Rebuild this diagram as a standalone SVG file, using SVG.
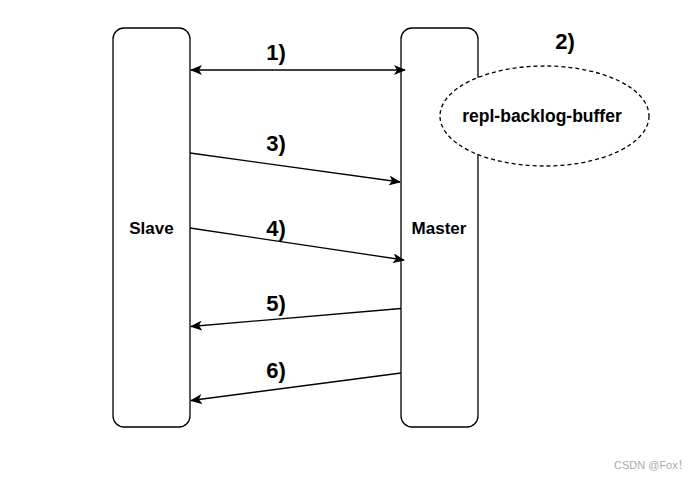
<svg xmlns="http://www.w3.org/2000/svg" width="698" height="479" viewBox="0 0 698 479">
<defs>
<marker id="arr" viewBox="0 0 12 10" refX="11" refY="5" markerWidth="12" markerHeight="10" markerUnits="userSpaceOnUse" orient="auto-start-reverse">
<path d="M0,0 L12,5 L0,10 L3,5 Z" fill="#000"/>
</marker>
<style>
.box{fill:#fff;stroke:#000;stroke-width:1.3}
.lbl{font-family:"Liberation Sans",Arial,sans-serif;font-weight:bold;fill:#000;text-anchor:middle}
.num{font-size:22px}
.name{font-size:17px}
.ln{stroke:#000;stroke-width:1.3;fill:none;marker-end:url(#arr)}
</style>
</defs>
<rect width="698" height="479" fill="#fff"/>
<g id="slave">
<rect class="box" x="113" y="28" width="77" height="399" rx="11"/>
<text class="lbl name" x="151.5" y="234">Slave</text>
</g>
<g id="master">
<rect class="box" x="401" y="28" width="77" height="399" rx="11"/>
<text class="lbl name" x="439" y="234">Master</text>
</g>
<g id="buffer">
<ellipse cx="544.5" cy="116" rx="104.5" ry="50" fill="#fff" stroke="#000" stroke-width="1.3" stroke-dasharray="4,3"/>
<text class="lbl name" x="542" y="121.5" style="font-size:17.5px">repl-backlog-buffer</text>
</g>
<g id="connectors">
<line class="ln" x1="191" y1="70" x2="405" y2="70" style="marker-start:url(#arr)"/>
<line class="ln" x1="190" y1="153" x2="400" y2="182"/>
<line class="ln" x1="190" y1="228" x2="404" y2="260"/>
<line class="ln" x1="401" y1="308.5" x2="191" y2="326.5"/>
<line class="ln" x1="401" y1="373" x2="191" y2="400.5"/>
</g>
<g id="labels">
<text class="lbl num" x="276" y="60">1)</text>
<text class="lbl num" x="565" y="49">2)</text>
<text class="lbl num" x="276" y="150.5">3)</text>
<text class="lbl num" x="276" y="236">4)</text>
<text class="lbl num" x="276" y="310.5">5)</text>
<text class="lbl num" x="276" y="377.5">6)</text>
</g>
<text x="614" y="469" font-family="'Liberation Sans',Arial,'Noto Sans CJK SC',sans-serif" font-size="11" fill="#aaa">CSDN @Fox！</text>
</svg>
